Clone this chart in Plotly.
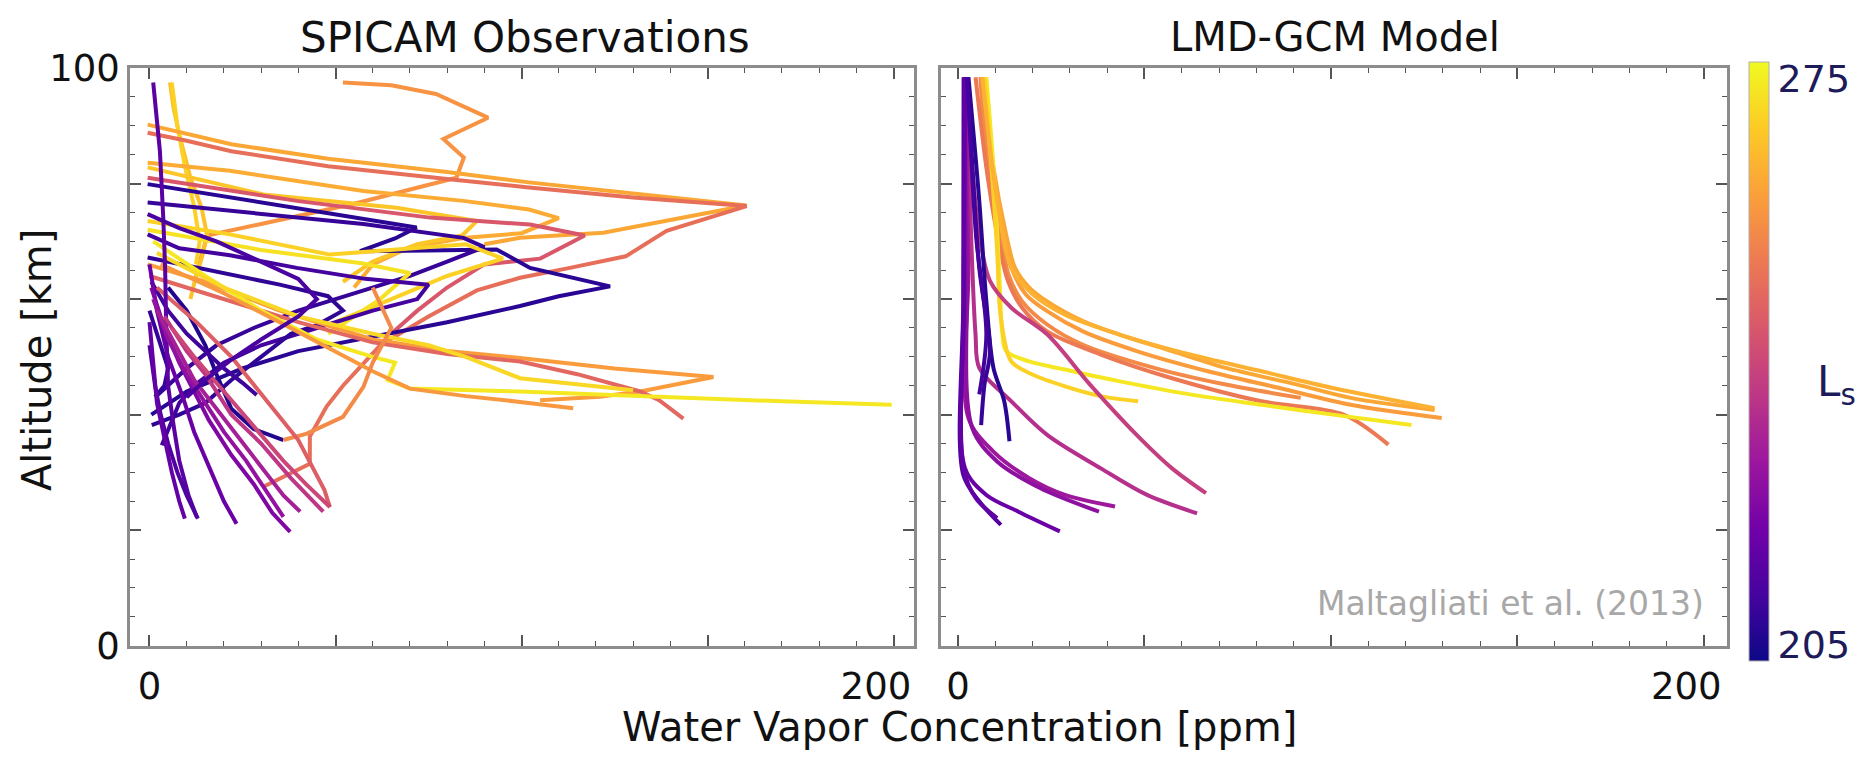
import plotly.graph_objects as go
from plotly.colors import sample_colorscale

W, H = 1862, 759
# colour-bar range (the labelled 205 / 275 sit slightly inside the bar ends)
CB_MIN, CB_MAX = 203, 277

# ---------------- SPICAM observations (left panel) ----------------
obs_ls = [258, 267, 270, 262, 250, 263, 268, 244, 207, 209, 270, 273, 211, 208, 206, 210, 209,
          260, 248, 274, 271, 259, 256, 246, 215, 218, 222, 226, 230, 236, 240, 213, 217, 212]
obs_h2o = [
    [52, 65, 77, 91, 79, 84.5, 82.5, 55, 30, 15.5, 12.5],
    [5.5, 6.5, 8, 11, 14, 15.5, 14, 12.5, 11],
    [6, 7.5, 9.5, 12, 13.5, 12.5],
    [-0.5, 10, 22, 48, 80, 102, 130, 160.5, 122, 99.6, 90],
    [-0.5, 10, 22, 48, 80, 102, 130, 160.5, 139, 128, 113, 99.6, 88, 75, 62, 52, 47.6, 43.1, 43.1, 30.6],
    [-0.5, 21.6, 57.5, 84.4, 102, 110, 100, 85, 70, 60, 55],
    [-0.5, 30.6, 66.4, 88, 84, 72, 60, 52],
    [-0.5, 39.6, 75.4, 102.3, 117, 105, 90, 80, 72, 65],
    [-0.5, 21.6, 48.5, 71.8, 66, 56.6, 75, 93.3, 102.3, 123.8, 110, 99.6, 80, 60, 40, 25, 10, 0.5],
    [-0.5, 30.6, 57.5, 84.4, 90, 80, 70, 55, 40, 28, 18, 10, 5, 1.5],
    [-0.5, 21.6, 48.5, 75.4, 85, 95, 80, 65, 50],
    [-0.5, 30, 57, 70, 62, 55, 48],
    [-0.5, 8, 21.6, 39.6, 58, 75, 72, 60, 45, 30, 20, 12, 8, 3.3],
    [-0.5, 17, 35, 48, 52, 45, 38, 30, 22, 15, 8, 0.6],
    [5, 10, 15, 18, 22, 28, 36],
    [0.5, 5, 10, 15, 20, 25, 28.8],
    [0, 3, 5, 4, 1.5],
    [-0.5, 15, 35, 60, 80, 99.6, 125, 151.6, 131.9, 121, 105],
    [0, 20, 40, 60, 80, 99.6, 115, 131.9, 137, 143.5],
    [1, 15, 30, 45, 60, 66, 64, 70, 99.6, 140, 170, 199.5],
    [2, 20, 40, 60, 75, 85, 99.6, 120, 130],
    [3, 20, 35, 50, 60, 70, 85, 99.6, 113.9],
    [60, 65, 60, 57.5, 52, 42.3, 36],
    [2, 13, 22, 32, 40, 47, 48.5],
    [1, 2.8, 3.7, 4.2, 4.5, 5, 6.5, 8, 10.5, 12.7],
    [0, 2, 5, 9, 12, 16, 20, 23.4],
    [0.5, 4, 8, 12, 16, 22, 28, 33, 37.8],
    [1, 5, 10, 15, 20, 26, 31, 36],
    [2, 7, 12, 18, 24, 30, 36, 40.5],
    [4, 10, 15, 22, 30, 38, 46.7],
    [6, 12, 20, 28, 36, 42, 48.5],
    [0, 1.5, 3, 5, 7.5, 10, 13],
    [0, 1, 2, 4, 6, 8, 9.5],
    [-0.5, 8, 18, 30, 40, 45, 40, 30, 22, 15, 10],
]
obs_alt = [
    [97.5, 97, 95.5, 91.4, 87.7, 84.5, 81, 76.5, 73, 71, 64],
    [97.5, 93, 88.5, 81, 75.8, 71, 67, 64, 60],
    [97.5, 90, 83, 76, 70, 66],
    [90.2, 88.6, 86.8, 84.3, 82, 80.2, 78.3, 76.2, 71.5, 70.6, 69.5],
    [88.8, 87.4, 85.6, 83, 80.8, 79.3, 77.6, 76.1, 71.8, 67.4, 65.4, 63.7, 61.5, 57, 52, 45, 41.4, 36.2, 31.5, 27.5],
    [83.6, 82.2, 78.7, 77, 75.5, 74, 71.4, 70.6, 69, 66, 62],
    [82.8, 78.1, 75.8, 73.5, 71, 69.5, 66.5, 63],
    [81, 77, 74.1, 72.9, 71, 67, 66, 62, 58, 54],
    [79.9, 77.6, 74.7, 72.4, 70.5, 68.3, 68.4, 68.6, 65.4, 62.2, 60.5, 58.8, 56, 53.5, 51, 48, 44, 40],
    [76.7, 74.7, 73, 70.6, 69, 66.5, 64, 61, 58, 55, 52, 48, 45, 43],
    [73.5, 71.2, 67.7, 68.9, 69.5, 67, 64, 60, 56],
    [72, 68.5, 66.2, 64.5, 60, 57, 54],
    [71.2, 68.8, 67.6, 65.4, 63.5, 62.5, 60, 58, 55, 52, 49, 45, 42, 34.7],
    [67.2, 64.8, 62.5, 60.5, 58, 55.5, 54, 50, 46, 42, 40, 38.2],
    [62, 58, 52, 47, 41, 37.5, 35.6],
    [63, 58, 54, 51, 48, 45.5, 43.4],
    [58, 52, 48, 45, 43.1],
    [66, 63, 58, 53, 51, 49.8, 48, 46.5, 44, 43.1, 42.5],
    [64, 60, 56, 52.5, 50.5, 49.2, 47, 44, 42.5, 39.3],
    [70, 64, 58, 53, 50, 49, 46, 44.5, 44, 43, 42.3, 41.7],
    [68, 62, 57, 54, 52, 50, 46.3, 44.8, 44.2],
    [66, 61, 56, 51, 47.5, 44.5, 43.2, 42.2, 41.1],
    [62, 55, 49, 44.8, 39.6, 36.7, 35.6],
    [62, 55.8, 50, 42, 35.6, 27, 24],
    [97.5, 85.6, 74.1, 65.4, 55, 45, 38, 32, 26, 22.3],
    [66, 58, 50, 43, 37, 31, 25, 21.1],
    [62, 55, 49, 44, 39, 33, 28, 23, 19.7],
    [60, 53, 47, 42, 37, 32, 27, 22.3],
    [58, 52, 46, 41, 36, 31, 26, 23.2],
    [57, 51, 47, 40, 35, 29, 23.2],
    [55, 50, 44, 38, 32, 28, 24],
    [52, 45, 40, 35, 30, 26, 22],
    [56, 48, 42, 36, 30, 25, 22],
    [74.7, 72.3, 70, 66.5, 63.5, 60, 57, 53, 49.5, 46, 43],
]

# ---------------- LMD-GCM model (right panel) ----------------
model_ls = [262, 260, 256, 252, 274, 270, 238, 234, 228, 225, 218, 214, 216, 207, 209, 211, 264]
model_h2o = [
    [6.7, 9.5, 12.9, 15.3, 19.1, 23.9, 33.5, 43.1, 57.4, 71.8, 91, 105.3, 127.8],
    [6.2, 8.5, 11.9, 14.3, 18.2, 23.9, 33.5, 47.9, 67, 86.2, 105.3, 129.7],
    [6, 8, 11.5, 13.5, 17.2, 23.9, 33.5, 52.6, 71.8, 91.9],
    [4.7, 7.6, 10.5, 13.4, 17.2, 23.9, 38.3, 57.4, 81.4, 103.4, 115.4],
    [7.6, 9.5, 11, 11.9, 12.9, 19.1, 28.7, 43.1, 62.2, 81.4, 100.5, 121.6],
    [7.1, 9, 10.5, 11.5, 14.3, 20.1, 28.7, 38.3, 48.3],
    [1.9, 3.8, 5.7, 8.6, 14.3, 23.9, 35.4, 47.9, 57.4, 66.5],
    [2.3, 3.5, 4.7, 5.7, 14.3, 23.9, 38.3, 50.7, 64.1],
    [2.1, 2.8, 2.8, 9.5, 19.1, 28.7, 42.1],
    [1.9, 2.4, 3.8, 10.5, 22, 37.8],
    [1.7, 1.7, 1.9, 7.6, 16.2, 27.3],
    [1.5, 1.4, 1.4, 5.7, 11.5],
    [1.9, 1.5, 1.5, 4.8, 10.5],
    [2.8, 5.7, 7.6, 9.5, 12.4, 13.8],
    [2.6, 5.7, 8.6, 7.1, 6.2],
    [2.5, 4.8, 7.6, 5.7],
    [6.5, 10.5, 14.3, 20.1, 28.7, 43.1, 62.2, 81.4, 100.5, 127.8],
]
model_alt = [
    [98.4, 82.8, 71.2, 65.4, 62, 59.6, 56.2, 53.9, 51, 48.1, 45.2, 42.9, 40.8],
    [98.4, 82.8, 71.2, 65.4, 60.8, 57.9, 54.4, 51, 47.5, 44.6, 41.7, 39.4],
    [98.4, 82.8, 71.2, 64.3, 59.6, 55.6, 52.1, 48.1, 45.2, 42.9],
    [98.4, 82.8, 71.2, 63.1, 58.5, 54.4, 50.4, 46.3, 42.3, 40, 34.8],
    [98.4, 82.8, 65.4, 53.9, 51, 49.2, 47.8, 45.8, 43.5, 41.7, 40, 38.2],
    [98.4, 82.8, 68.3, 56.7, 49.2, 46.9, 44.9, 43.2, 42.3],
    [98.4, 82.8, 71.2, 63.1, 58.5, 53.9, 45.2, 36.5, 30.7, 26.4],
    [98.4, 71.2, 53.9, 48.1, 42.3, 36.5, 30.7, 26.1, 22.9],
    [98.4, 65.4, 39.4, 33.6, 29, 26.1, 24.1],
    [98.4, 65.4, 37.7, 31.9, 27.3, 23.2],
    [98.4, 59.6, 30.7, 26.1, 23.2, 19.8],
    [98.4, 59.6, 29.6, 25, 20.9],
    [98.4, 60, 30.7, 25.5, 22.1],
    [98.4, 77, 59.6, 48.1, 42.3, 35.4],
    [98.4, 65.4, 51, 45.2, 38.2],
    [98.4, 71.2, 53.9, 43.5],
    [98.4, 77, 65.4, 60.8, 57.3, 53.9, 50.4, 47.5, 44.6, 41.1],
]

# tick labels: only the ends of each axis are labelled
x_labelalias = {"50": "", "100": "", "150": "", "200": "200\u00a0\u00a0\u00a0"}
y_labelalias = {"20": "", "40": "", "60": "", "80": ""}
cb_tickvals = [205, 275]

FONT = "DejaVu Sans"
NAVY = "#1e1b5a"


def ls_color(v):
    return sample_colorscale("Plasma", [(v - CB_MIN) / (CB_MAX - CB_MIN)])[0]


fig = go.Figure()
for ls, xs, ys in zip(obs_ls, obs_h2o, obs_alt):
    fig.add_trace(go.Scatter(x=xs, y=ys, mode="lines", xaxis="x", yaxis="y",
                             line=dict(color=ls_color(ls), width=4),
                             showlegend=False, hoverinfo="skip"))
for ls, xs, ys in zip(model_ls, model_h2o, model_alt):
    fig.add_trace(go.Scatter(x=xs, y=ys, mode="lines", xaxis="x2", yaxis="y2",
                             line=dict(color=ls_color(ls), width=4, shape="spline", smoothing=0.9),
                             showlegend=False, hoverinfo="skip"))

# colour bar carrier (point lies outside the visible range)
fig.add_trace(go.Scatter(x=[100], y=[-50], mode="markers", xaxis="x2", yaxis="y2",
                         marker=dict(color=[240], cmin=CB_MIN, cmax=CB_MAX, colorscale="Plasma",
                                     showscale=True, size=1,
                                     colorbar=dict(x=1749 / W, xanchor="left", y=1 - 361.5 / H,
                                                   yanchor="middle", len=599 / H, lenmode="fraction",
                                                   thickness=20, thicknessmode="pixels",
                                                   xpad=0, ypad=0, outlinewidth=1, outlinecolor="#b0b0b0",
                                                   tickvals=cb_tickvals, ticks="",
                                                   tickfont=dict(family=FONT, size=38, color=NAVY))),
                         showlegend=False, hoverinfo="skip"))

axis_common = dict(
    showline=True, linecolor="#8c8c8c", linewidth=2.5, mirror="ticks",
    ticks="inside", ticklen=11, tickwidth=1.5, tickcolor="#555555",
    showgrid=False, zeroline=False, automargin=False,
    tickfont=dict(family=FONT, size=37, color="#111111"),
)
x_minor = dict(tick0=0, dtick=10, ticks="inside", ticklen=5,
               tickwidth=1, tickcolor="#555555", showgrid=False)
y_minor = dict(tick0=0, dtick=5, ticks="inside", ticklen=5,
               tickwidth=1, tickcolor="#555555", showgrid=False)

ydom = [1 - 645.7 / H, 1 - 68 / H]
fig.update_layout(
    width=W, height=H, autosize=False,
    margin=dict(l=0, r=0, t=0, b=0),
    paper_bgcolor="white", plot_bgcolor="white",
    font=dict(family=FONT, color="#111111"),
    xaxis=dict(domain=[130 / W, 914 / W], range=[-5.24, 205.5], anchor="y",
               tickmode="linear", tick0=0, dtick=50, labelalias=x_labelalias,
               ticklabelstandoff=6, minor=x_minor, **axis_common),
    yaxis=dict(domain=ydom, range=[0, 100], anchor="x",
               tickmode="linear", tick0=0, dtick=20, labelalias=y_labelalias,
               minor=y_minor, **axis_common),
    xaxis2=dict(domain=[941 / W, 1727 / W], range=[-4.56, 206.2], anchor="y2",
                tickmode="linear", tick0=0, dtick=50, labelalias=x_labelalias,
                ticklabelstandoff=6, minor=x_minor, **axis_common),
    yaxis2=dict(domain=ydom, range=[0, 100], anchor="x2", showticklabels=False,
                tickmode="linear", tick0=0, dtick=20, minor=y_minor, **axis_common),
    annotations=[
        dict(text="SPICAM Observations", x=525 / W, y=1 - 37 / H, xref="paper", yref="paper",
             showarrow=False, xanchor="center", yanchor="middle",
             font=dict(family=FONT, size=42, color="#111111")),
        dict(text="LMD-GCM Model", x=1335 / W, y=1 - 37 / H, xref="paper", yref="paper",
             showarrow=False, xanchor="center", yanchor="middle",
             font=dict(family=FONT, size=40, color="#111111")),
        dict(text="Water Vapor Concentration [ppm]", x=959 / W, y=1 - 727 / H, xref="paper", yref="paper",
             showarrow=False, xanchor="center", yanchor="middle",
             font=dict(family=FONT, size=40, color="#111111")),
        dict(text="Altitude [km]", x=37 / W, y=1 - 360 / H, xref="paper", yref="paper",
             showarrow=False, xanchor="center", yanchor="middle", textangle=-90,
             font=dict(family=FONT, size=40, color="#111111")),
        dict(text="Maltagliati et al. (2013)", x=1706 / W, y=1 - 603 / H, xref="paper", yref="paper",
             showarrow=False, xanchor="right", yanchor="middle",
             font=dict(family=FONT, size=33, color="#a8a8a8")),
        dict(text="L<sub>s</sub>", x=1858 / W, y=1 - 384 / H, xref="paper", yref="paper",
             showarrow=False, xanchor="right", yanchor="middle",
             font=dict(family=FONT, size=42, color=NAVY)),
    ],
)

fig.write_html("out.html")
